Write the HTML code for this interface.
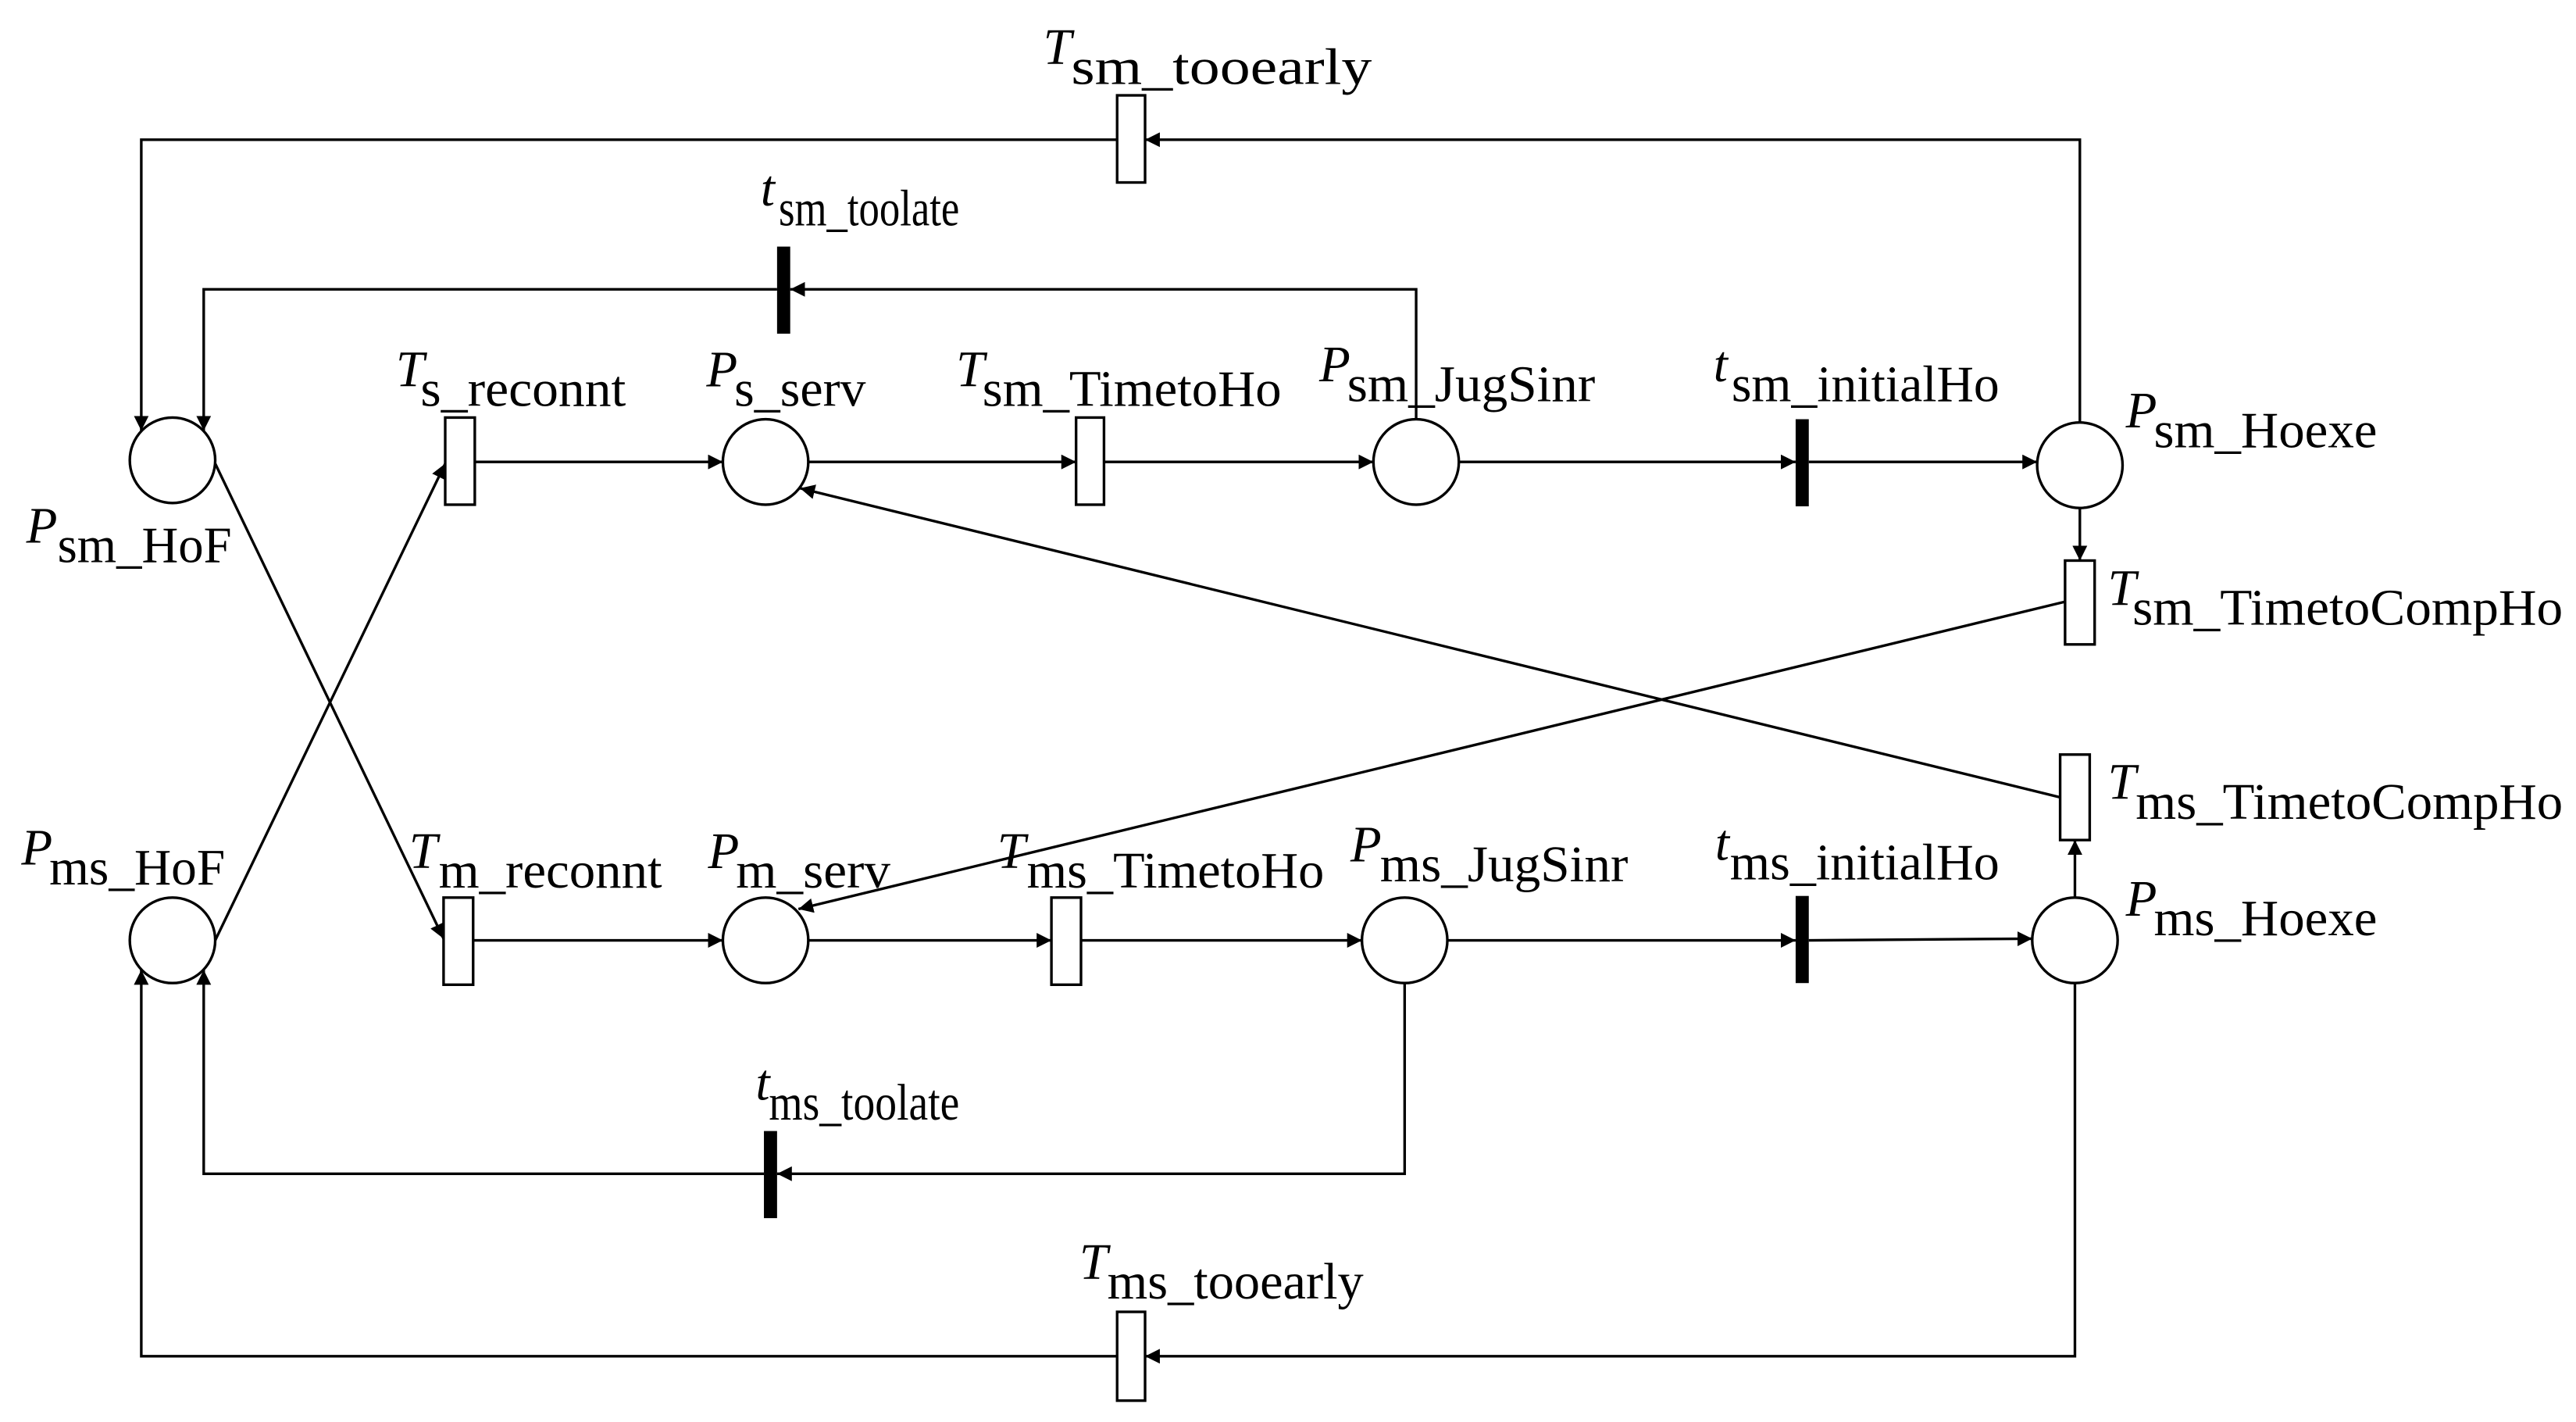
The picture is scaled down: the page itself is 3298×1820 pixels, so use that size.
<!DOCTYPE html>
<html><head><meta charset="utf-8"><style>
html,body{margin:0;padding:0;background:#fff;}
svg{display:block;}
text{font-family:"Liberation Serif",serif;font-size:31px;fill:#000;}
.i{font-style:italic;}
</style></head><body>
<svg width="3298" height="1820" viewBox="0 0 1568 865" preserveAspectRatio="none" xmlns="http://www.w3.org/2000/svg">
<defs>
<marker id="a" viewBox="0 0 10 10" refX="10" refY="5" markerWidth="9" markerHeight="9" markerUnits="userSpaceOnUse" orient="auto"><path d="M0,0 L10,5 L0,10 z" fill="#000"/></marker>
</defs>
<g stroke="#000" stroke-width="1.6" fill="none">
<circle cx="105" cy="280" r="26" fill="#fff"/>
<circle cx="466" cy="281" r="26" fill="#fff"/>
<circle cx="862" cy="281" r="26" fill="#fff"/>
<circle cx="1266" cy="283" r="26" fill="#fff"/>
<circle cx="105" cy="572" r="26" fill="#fff"/>
<circle cx="466" cy="572" r="26" fill="#fff"/>
<circle cx="855" cy="572" r="26" fill="#fff"/>
<circle cx="1263" cy="572" r="26" fill="#fff"/>
<polyline points="1266,257 1266,85 697,85" marker-end="url(#a)"/>
<polyline points="680,85 86,85 86,262" marker-end="url(#a)"/>
<polyline points="862,255 862,176 481,176" marker-end="url(#a)"/>
<polyline points="473,176 124,176 124,262" marker-end="url(#a)"/>
<line x1="289" y1="281" x2="440" y2="281" marker-end="url(#a)"/>
<line x1="492" y1="281" x2="655" y2="281" marker-end="url(#a)"/>
<line x1="672" y1="281" x2="836" y2="281" marker-end="url(#a)"/>
<line x1="888" y1="281" x2="1093" y2="281" marker-end="url(#a)"/>
<line x1="1101" y1="281" x2="1240" y2="281" marker-end="url(#a)"/>
<line x1="1266" y1="309" x2="1266" y2="341" marker-end="url(#a)"/>
<line x1="1257" y1="366" x2="486" y2="553" marker-end="url(#a)"/>
<line x1="1254" y1="485" x2="487" y2="297" marker-end="url(#a)"/>
<line x1="1263" y1="546" x2="1263" y2="511" marker-end="url(#a)"/>
<line x1="131" y1="282" x2="270" y2="571" marker-end="url(#a)"/>
<line x1="131" y1="572" x2="271" y2="282" marker-end="url(#a)"/>
<line x1="288" y1="572" x2="440" y2="572" marker-end="url(#a)"/>
<line x1="492" y1="572" x2="640" y2="572" marker-end="url(#a)"/>
<line x1="658" y1="572" x2="829" y2="572" marker-end="url(#a)"/>
<line x1="881" y1="572" x2="1093" y2="572" marker-end="url(#a)"/>
<line x1="1101" y1="572" x2="1237" y2="571" marker-end="url(#a)"/>
<polyline points="855,598 855,714 473,714" marker-end="url(#a)"/>
<polyline points="465,714 124,714 124,590" marker-end="url(#a)"/>
<polyline points="1263,598 1263,825 697,825" marker-end="url(#a)"/>
<polyline points="680,825 86,825 86,590" marker-end="url(#a)"/>
<rect x="271" y="254" width="18" height="53" fill="#fff"/>
<rect x="655" y="254" width="17" height="53" fill="#fff"/>
<rect x="680" y="58" width="17" height="53" fill="#fff"/>
<rect x="1257" y="341" width="18" height="51" fill="#fff"/>
<rect x="1254" y="459" width="18" height="52" fill="#fff"/>
<rect x="270" y="546" width="18" height="53" fill="#fff"/>
<rect x="640" y="546" width="18" height="53" fill="#fff"/>
<rect x="680" y="798" width="17" height="54" fill="#fff"/>
</g>
<g fill="#000">
<rect x="473" y="150" width="8" height="53"/>
<rect x="1093" y="255" width="8" height="53"/>
<rect x="1093" y="545" width="8" height="53"/>
<rect x="465" y="688" width="8" height="53"/>
</g>
<text x="635" y="39"><tspan class="i">T</tspan><tspan x="652" dy="12" textLength="183" lengthAdjust="spacingAndGlyphs">sm_tooearly</tspan></text>
<text x="463" y="125"><tspan class="i">t</tspan><tspan x="474" dy="12" textLength="110" lengthAdjust="spacingAndGlyphs">sm_toolate</tspan></text>
<text x="241" y="235"><tspan class="i">T</tspan><tspan x="256" dy="12" textLength="125" lengthAdjust="spacingAndGlyphs">s_reconnt</tspan></text>
<text x="430" y="235"><tspan class="i">P</tspan><tspan x="447" dy="12" textLength="80" lengthAdjust="spacingAndGlyphs">s_serv</tspan></text>
<text x="582" y="235"><tspan class="i">T</tspan><tspan x="598" dy="12" textLength="182" lengthAdjust="spacingAndGlyphs">sm_TimetoHo</tspan></text>
<text x="803" y="232"><tspan class="i">P</tspan><tspan x="820" dy="12" textLength="151" lengthAdjust="spacingAndGlyphs">sm_JugSinr</tspan></text>
<text x="1043" y="232"><tspan class="i">t</tspan><tspan x="1054" dy="12" textLength="163" lengthAdjust="spacingAndGlyphs">sm_initialHo</tspan></text>
<text x="1294" y="260"><tspan class="i">P</tspan><tspan x="1311" dy="12" textLength="136" lengthAdjust="spacingAndGlyphs">sm_Hoexe</tspan></text>
<text x="16" y="330"><tspan class="i">P</tspan><tspan x="35" dy="12" textLength="106" lengthAdjust="spacingAndGlyphs">sm_HoF</tspan></text>
<text x="1283" y="368"><tspan class="i">T</tspan><tspan x="1298" dy="12" textLength="262" lengthAdjust="spacingAndGlyphs">sm_TimetoCompHo</tspan></text>
<text x="1283" y="486"><tspan class="i">T</tspan><tspan x="1300" dy="12" textLength="260" lengthAdjust="spacingAndGlyphs">ms_TimetoCompHo</tspan></text>
<text x="13" y="526"><tspan class="i">P</tspan><tspan x="30" dy="12" textLength="107" lengthAdjust="spacingAndGlyphs">ms_HoF</tspan></text>
<text x="249" y="528"><tspan class="i">T</tspan><tspan x="267" dy="12" textLength="136" lengthAdjust="spacingAndGlyphs">m_reconnt</tspan></text>
<text x="431" y="528"><tspan class="i">P</tspan><tspan x="448" dy="12" textLength="94" lengthAdjust="spacingAndGlyphs">m_serv</tspan></text>
<text x="607" y="528"><tspan class="i">T</tspan><tspan x="625" dy="12" textLength="181" lengthAdjust="spacingAndGlyphs">ms_TimetoHo</tspan></text>
<text x="822" y="524"><tspan class="i">P</tspan><tspan x="840" dy="12" textLength="151" lengthAdjust="spacingAndGlyphs">ms_JugSinr</tspan></text>
<text x="1044" y="523"><tspan class="i">t</tspan><tspan x="1053" dy="12" textLength="164" lengthAdjust="spacingAndGlyphs">ms_initialHo</tspan></text>
<text x="1294" y="557"><tspan class="i">P</tspan><tspan x="1311" dy="12" textLength="136" lengthAdjust="spacingAndGlyphs">ms_Hoexe</tspan></text>
<text x="460" y="669"><tspan class="i">t</tspan><tspan x="468" dy="12" textLength="116" lengthAdjust="spacingAndGlyphs">ms_toolate</tspan></text>
<text x="657" y="778"><tspan class="i">T</tspan><tspan x="674" dy="12" textLength="156" lengthAdjust="spacingAndGlyphs">ms_tooearly</tspan></text>
</svg>
</body></html>
